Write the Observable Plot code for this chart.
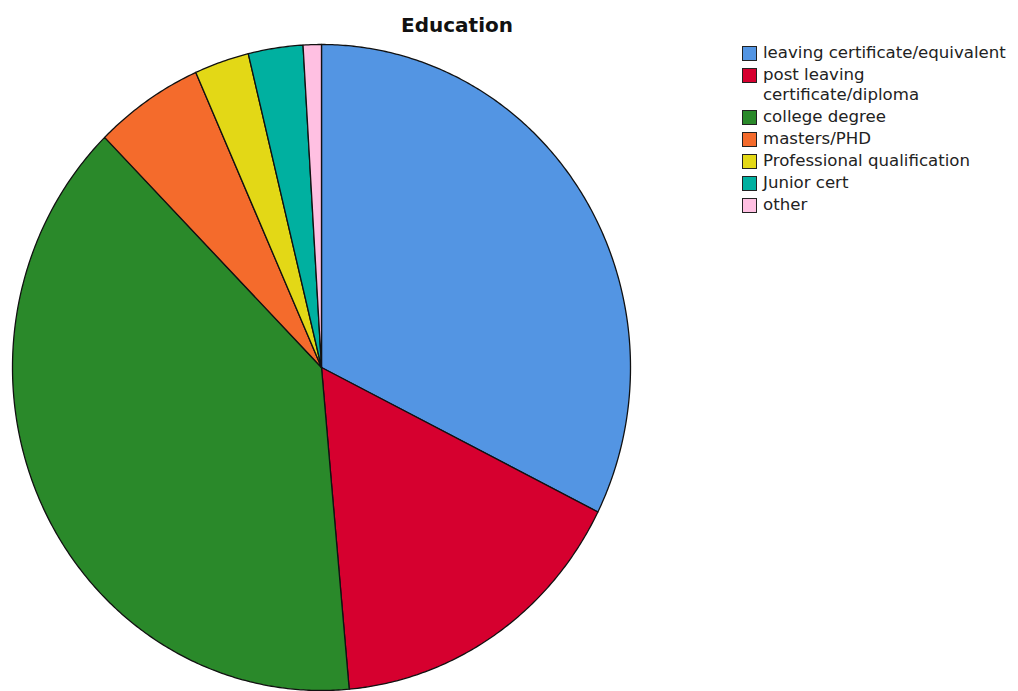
<!DOCTYPE html>
<html>
<head>
<meta charset="utf-8">
<script src="https://cdn.jsdelivr.net/npm/d3@7"></script>
<script src="https://cdn.jsdelivr.net/npm/@observablehq/plot@0.6"></script>
<style>
  html, body { margin: 0; padding: 0; background: #fff; }
  #wrap { position: relative; width: 1018px; height: 691px; overflow: hidden; font-family: "DejaVu Sans", sans-serif; }
  #title { position: absolute; left: 357px; width: 200px; top: 13px; text-align: center; font-weight: bold; font-size: 20px; color: #111; }
  #legend { position: absolute; left: 742px; top: 43px; font-size: 16.6px; color: #222; }
  .row { display: flex; align-items: flex-start; line-height: 20px; margin-bottom: 2px; }
  .sw { width: 13px; height: 13px; border: 1px solid #222; margin-right: 6px; margin-top: 3px; flex: none; }
  .lab { width: 265px; white-space: nowrap; }
  #chart { position: absolute; left: 0; top: 0; }
</style>
</head>
<body>
<div id="wrap">
  <div id="chart"></div>
  <div id="title">Education</div>
  <div id="legend"></div>
</div>
<script>
const categories = [
  "leaving certificate/equivalent",
  "post leaving certificate/diploma",
  "college degree",
  "masters/PHD",
  "Professional qualification",
  "Junior cert",
  "other"
];
const counts = [34, 17, 41, 6, 3, 3, 1];
const colors = ["#5395E3", "#D6002F", "#2A892A", "#F46B2C", "#E3D816", "#00B0A0", "#FFC0E2"];
const legendLabels = [
  "leaving certificate/equivalent",
  "post leaving<br>certificate/diploma",
  "college degree",
  "masters/PHD",
  "Professional qualification",
  "Junior cert",
  "other"
];

const table = categories.map((c, i) => ({category: c, value: counts[i]}));
const arcs = d3.pie().sort(null).value(d => d.value)(table);

// Build slice outlines (unit circle) from pie angles
const pts = [];
arcs.forEach(a => {
  const key = a.data.category;
  pts.push({key, x: 0, y: 0});
  const n = Math.max(2, Math.ceil((a.endAngle - a.startAngle) / (Math.PI / 360)));
  for (let k = 0; k <= n; k++) {
    const t = a.startAngle + (a.endAngle - a.startAngle) * k / n;
    pts.push({key, x: Math.sin(t), y: Math.cos(t)});
  }
});

const cx = 321, cy = 367, rx = 309, ry = 323;
const chart = Plot.plot({
  width: 1018,
  height: 691,
  margin: 0,
  x: {domain: [-1, 1], range: [cx - rx, cx + rx], axis: null},
  y: {domain: [-1, 1], range: [cy + ry, cy - ry], axis: null},
  color: {domain: categories, range: colors},
  marks: [
    Plot.line(pts, {x: "x", y: "y", z: "key", fill: "key", stroke: "#111", strokeWidth: 1.3, curve: "linear-closed", strokeLinejoin: "round"})
  ]
});
document.getElementById("chart").appendChild(chart);

const lg = document.getElementById("legend");
categories.forEach((c, i) => {
  const row = document.createElement("div");
  row.className = "row";
  row.innerHTML = `<div class="sw" style="background:${colors[i]}"></div><div class="lab">${legendLabels[i]}</div>`;
  lg.appendChild(row);
});
</script>
</body>
</html>
